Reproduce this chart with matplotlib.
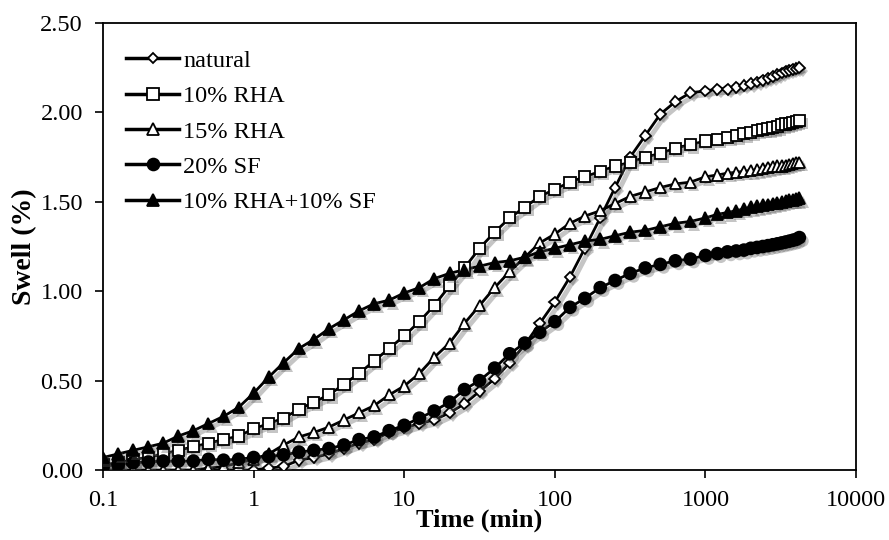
import numpy as np
import matplotlib
matplotlib.use("Agg")
import matplotlib.pyplot as plt
import matplotlib.patheffects as pe

plt.rcParams['font.family'] = ['Liberation Serif', 'DejaVu Serif']

# Elapsed time of each reading (min)
time_min = [0.1, 0.126, 0.158, 0.2, 0.251, 0.316, 0.398, 0.501, 0.631, 0.794,
            1.0, 1.26, 1.58, 2.0, 2.51, 3.16, 3.98, 5.01, 6.31, 7.94,
            10.0, 12.6, 15.8, 20.0, 25.1, 31.6, 39.8, 50.1, 63.1, 79.4,
            100, 126, 158, 200, 251, 316, 398, 501, 631, 794,
            1000, 1200, 1400, 1600, 1800, 2000, 2200, 2400, 2600, 2800,
            3000, 3200, 3400, 3600, 3800, 4000, 4200]

nan = np.nan
swell_natural = [nan, nan, nan, nan, nan, nan, nan, 0.0, 0.0, 0.0,
                 0.0, 0.01, 0.02, 0.055, 0.07, 0.09, 0.12, 0.15, 0.17, 0.21,
                 0.235, 0.26, 0.28, 0.32, 0.37, 0.44, 0.51, 0.60, 0.70, 0.82,
                 0.94, 1.08, 1.24, 1.41, 1.58, 1.75, 1.87, 1.99, 2.06, 2.11,
                 2.12, 2.13, 2.13, 2.14, 2.15, 2.16, 2.17, 2.18, 2.19, 2.20,
                 2.21, 2.22, 2.23, 2.235, 2.24, 2.245, 2.25]
swell_rha10 = [0.03, 0.04, 0.06, 0.07, 0.09, 0.11, 0.13, 0.15, 0.17, 0.19,
               0.23, 0.26, 0.29, 0.34, 0.38, 0.42, 0.48, 0.54, 0.61, 0.68,
               0.75, 0.83, 0.92, 1.03, 1.13, 1.24, 1.33, 1.41, 1.47, 1.53,
               1.57, 1.61, 1.64, 1.67, 1.70, 1.72, 1.75, 1.77, 1.80, 1.82,
               1.84, 1.85, 1.86, 1.87, 1.88, 1.89, 1.90, 1.905, 1.91, 1.915,
               1.92, 1.93, 1.935, 1.94, 1.945, 1.95, 1.955]
swell_rha15 = [0.0, 0.0, 0.0, 0.0, 0.0, 0.0, 0.0, 0.01, 0.02, 0.04,
               0.06, 0.09, 0.14, 0.185, 0.21, 0.24, 0.28, 0.32, 0.36, 0.42,
               0.47, 0.54, 0.63, 0.71, 0.82, 0.92, 1.02, 1.11, 1.19, 1.27,
               1.32, 1.38, 1.42, 1.45, 1.49, 1.53, 1.555, 1.58, 1.60, 1.61,
               1.64, 1.65, 1.66, 1.665, 1.67, 1.675, 1.68, 1.685, 1.69, 1.695,
               1.70, 1.70, 1.705, 1.71, 1.715, 1.72, 1.72]
swell_sf20 = [0.02, 0.03, 0.04, 0.045, 0.05, 0.05, 0.05, 0.06, 0.055, 0.06,
              0.07, 0.075, 0.085, 0.10, 0.11, 0.12, 0.14, 0.17, 0.185, 0.22,
              0.25, 0.29, 0.33, 0.38, 0.45, 0.50, 0.57, 0.65, 0.71, 0.77,
              0.83, 0.91, 0.96, 1.02, 1.06, 1.10, 1.13, 1.15, 1.17, 1.18,
              1.20, 1.21, 1.22, 1.225, 1.23, 1.24, 1.245, 1.25, 1.255, 1.26,
              1.265, 1.27, 1.275, 1.28, 1.285, 1.29, 1.30]
swell_rha10_sf10 = [0.07, 0.09, 0.11, 0.13, 0.15, 0.19, 0.22, 0.26, 0.30, 0.35,
                    0.43, 0.52, 0.60, 0.68, 0.73, 0.79, 0.84, 0.89, 0.93, 0.95,
                    0.99, 1.02, 1.07, 1.10, 1.12, 1.14, 1.16, 1.17, 1.19, 1.22,
                    1.24, 1.26, 1.28, 1.29, 1.31, 1.33, 1.34, 1.36, 1.38, 1.39,
                    1.41, 1.43, 1.44, 1.45, 1.46, 1.47, 1.475, 1.48, 1.485, 1.49,
                    1.495, 1.50, 1.505, 1.51, 1.51, 1.515, 1.52]

series = [
    ("natural", swell_natural, "D", "white", 5.5),
    ("10% RHA", swell_rha10, "s", "white", 8),
    ("15% RHA", swell_rha15, "^", "white", 8),
    ("20% SF", swell_sf20, "o", "black", 8.5),
    ("10% RHA+10% SF", swell_rha10_sf10, "^", "black", 8.5),
]

fig = plt.figure(figsize=(8.89, 5.40), dpi=100)
ax = fig.add_axes([0.1159, 0.1296, 0.8471, 0.8278])

line_shadow = [pe.SimpleLineShadow(offset=(2.5, -2.5), shadow_color='0.35', alpha=0.35, linewidth=3.5),
               pe.Normal()]
marker_shadow = [pe.SimplePatchShadow(offset=(2.5, -2.5), shadow_rgbFace='0.35', alpha=0.35),
                 pe.Normal()]

t = np.array(time_min)
for label, values, marker, face, size in series:
    y = np.array(values, dtype=float)
    ax.plot(t, y, color='black', lw=2.0, zorder=2, path_effects=line_shadow)
    ax.plot(t, y, linestyle='none', marker=marker, markersize=size,
            markerfacecolor=face, markeredgecolor='black', markeredgewidth=1.3,
            zorder=3, path_effects=marker_shadow)
    # legend proxy
    ax.plot([], [], color='black', lw=2.5, marker=marker, markersize=size,
            markerfacecolor=face, markeredgecolor='black', markeredgewidth=1.3,
            label=label)

ax.set_xscale('log')
ax.set_xlim(0.1, 10000)
ax.set_ylim(0, 2.5)
ax.set_xticks([0.1, 1, 10, 100, 1000, 10000])
ax.set_xticklabels(['0.1', '1', '10', '100', '1000', '10000'])
ax.xaxis.set_minor_locator(matplotlib.ticker.NullLocator())
ax.set_yticks([0, 0.5, 1.0, 1.5, 2.0, 2.5])
ax.set_yticklabels(['0.00', '0.50', '1.00', '1.50', '2.00', '2.50'])
ax.tick_params(axis='both', direction='out', length=6, width=1.2, labelsize=17.5,
               colors='black', pad=8.5)
for s in ax.spines.values():
    s.set_linewidth(1.3)
    s.set_color('black')

ax.set_xlabel('Time (min)', fontsize=19, fontweight='bold', labelpad=-2)
ax.set_ylabel('Swell (%)', fontsize=20, fontweight='bold', labelpad=2)

ax.legend(loc='upper left', frameon=False, fontsize=17.5, handlelength=2.2,
          handletextpad=0.15, labelspacing=0.55, borderaxespad=0.0, borderpad=0.0,
          bbox_to_anchor=(0.0305, 0.94))

fig.savefig('out.png', dpi=100)
